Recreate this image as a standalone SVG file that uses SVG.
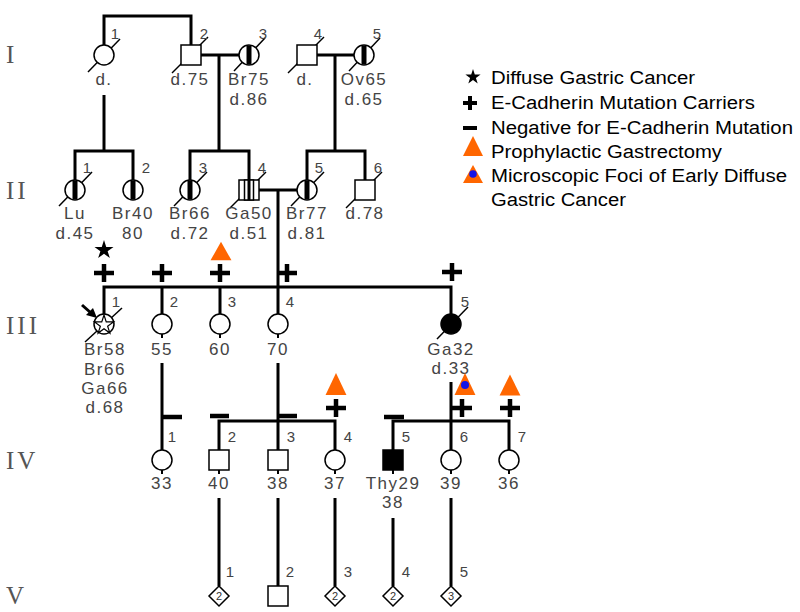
<svg xmlns="http://www.w3.org/2000/svg" xmlns:xlink="http://www.w3.org/1999/xlink" width="800" height="612" viewBox="0 0 800 612">
<style>
.ln{fill:none;stroke:#000;stroke-width:3}
.sym{fill:#fff;stroke:#000;stroke-width:1.5}
.aff{fill:#000;stroke:#000;stroke-width:1.5}
.sl{stroke:#000;stroke-width:1.5}
.stp{stroke:#000;stroke-width:5}
.stub{stroke:#000;stroke-width:2}
.t{font-family:"Liberation Sans",Arial,sans-serif;font-size:17px;letter-spacing:1.5px;fill:#444;text-anchor:middle}
.n{font-family:"Liberation Sans",Arial,sans-serif;font-size:15px;fill:#444;text-anchor:middle}
.g{font-family:"Liberation Serif","Times New Roman",serif;font-size:25px;letter-spacing:3px;fill:#555}
.lg{font-family:"Liberation Sans",Arial,sans-serif;font-size:18px;fill:#000}
.pl{stroke:#000;stroke-width:4.5;fill:none}
.tri{fill:#FF6600}
.in{font-family:"Liberation Sans",Arial,sans-serif;font-size:11px;fill:#333;text-anchor:middle}
</style>
<defs>
<path id="star" d="M0,-10 L2.245,-3.09 L9.511,-3.09 L3.633,1.18 L5.878,8.09 L0,3.82 L-5.878,8.09 L-3.633,1.18 L-9.511,-3.09 L-2.245,-3.09 Z"/>
<path id="plus" d="M-10,0 H10 M0,-9 V9"/>
<path id="tri" d="M0,-11 L11,11 L-11,11 Z"/>
</defs>

<!-- generation labels -->
<g id="generations">
<text class="g" x="6" y="63">I</text>
<text class="g" x="6" y="199">II</text>
<text class="g" x="6" y="334">III</text>
<text class="g" x="6" y="469">IV</text>
<text class="g" x="6" y="604">V</text>
</g>

<!-- connectors -->
<g id="connectors">
<path class="ln" d="M104,45 V16 H191 V45"/>
<path class="ln" d="M201,55 H239 M219,55 V151"/>
<path class="ln" d="M317,55 H354 M335,55 V151"/>
<path class="ln" d="M104,95 V151"/>
<path class="ln" d="M75,180 V151 H133 V180"/>
<path class="ln" d="M190,180 V151 H249 V180"/>
<path class="ln" d="M307,180 V151 H365 V180"/>
<path class="ln" d="M259,190 H297 M278,190 V314"/>
<path class="ln" d="M104,314 V287 H451 V314 M162,287 V314 M220,287 V314"/>
<path class="ln" d="M162,363 V450"/>
<path class="ln" d="M278,363 V450 M219,450 V421 H335 V450"/>
<path class="ln" d="M451,382 V450 M393,450 V421 H509 V450"/>
<path class="ln" d="M219,498 V586 M278,498 V586 M335,498 V586 M393,518 V586 M451,498 V586"/>
</g>

<!-- Generation I -->
<g id="I-1">
<line class="sl" x1="88" y1="72" x2="120" y2="39"/>
<circle class="sym" cx="104" cy="55" r="10"/>
<text class="n" x="115" y="39">1</text>
<text class="t" x="104" y="85">d.</text>
</g>
<g id="I-2">
<line class="sl" x1="172" y1="73" x2="208" y2="37"/>
<rect class="sym" x="181" y="45" width="20" height="20"/>
<text class="n" x="204" y="39">2</text>
<text class="t" x="190" y="85">d.75</text>
</g>
<g id="I-3">
<line class="sl" x1="234" y1="71" x2="265" y2="38"/>
<circle class="sym" cx="249" cy="55" r="10"/>
<line class="stp" x1="249" y1="45.5" x2="249" y2="64.5"/>
<text class="n" x="263" y="39">3</text>
<text class="t" x="249" y="85">Br75</text>
<text class="t" x="249" y="105">d.86</text>
</g>
<g id="I-4">
<line class="sl" x1="288" y1="73" x2="324" y2="37"/>
<rect class="sym" x="297" y="45" width="20" height="20"/>
<text class="n" x="318" y="39">4</text>
<text class="t" x="305" y="85">d.</text>
</g>
<g id="I-5">
<line class="sl" x1="349" y1="71" x2="380" y2="38"/>
<circle class="sym" cx="364" cy="55" r="10"/>
<line class="stp" x1="364" y1="45.5" x2="364" y2="64.5"/>
<text class="n" x="377" y="39">5</text>
<text class="t" x="364" y="85">Ov65</text>
<text class="t" x="364" y="105">d.65</text>
</g>

<!-- Generation II -->
<g id="II-1">
<line class="sl" x1="59" y1="206" x2="92" y2="172"/>
<circle class="sym" cx="75" cy="190" r="10"/>
<line class="stp" x1="75" y1="180.5" x2="75" y2="199.5"/>
<text class="n" x="87" y="173">1</text>
<text class="t" x="75" y="219">Lu</text>
<text class="t" x="75" y="239">d.45</text>
</g>
<g id="II-2">
<circle class="sym" cx="133" cy="190" r="10"/>
<line class="stp" x1="133" y1="180.5" x2="133" y2="199.5"/>
<text class="n" x="146" y="173">2</text>
<text class="t" x="133" y="219">Br40</text>
<text class="t" x="133" y="239">80</text>
</g>
<g id="II-3">
<line class="sl" x1="174" y1="206" x2="207" y2="172"/>
<circle class="sym" cx="190" cy="190" r="10"/>
<line class="stp" x1="190" y1="180.5" x2="190" y2="199.5"/>
<text class="n" x="203" y="173">3</text>
<text class="t" x="190" y="219">Br66</text>
<text class="t" x="190" y="239">d.72</text>
</g>
<g id="II-4">
<line class="sl" x1="230" y1="208" x2="266" y2="172"/>
<rect class="sym" x="239" y="180" width="20" height="20"/>
<rect class="sym" x="244.5" y="180" width="9" height="20"/>
<line class="stp" x1="249" y1="180" x2="249" y2="200" style="stroke-width:3"/>
<text class="n" x="262" y="173">4</text>
<text class="t" x="249" y="219">Ga50</text>
<text class="t" x="249" y="239">d.51</text>
</g>
<g id="II-5">
<line class="sl" x1="291" y1="206" x2="324" y2="172"/>
<circle class="sym" cx="307" cy="190" r="10"/>
<line class="stp" x1="307" y1="180.5" x2="307" y2="199.5"/>
<text class="n" x="319" y="173">5</text>
<text class="t" x="307" y="219">Br77</text>
<text class="t" x="307" y="239">d.81</text>
</g>
<g id="II-6">
<line class="sl" x1="346" y1="208" x2="382" y2="172"/>
<rect class="sym" x="355" y="180" width="20" height="20"/>
<text class="n" x="378" y="173">6</text>
<text class="t" x="365" y="219">d.78</text>
</g>

<!-- markers Gen III -->
<g id="markers-III">
<use href="#star" xlink:href="#star" transform="translate(104,250)"/>
<use class="tri" href="#tri" xlink:href="#tri" transform="translate(221,251) scale(0.95,0.85)"/>
<use class="pl" href="#plus" xlink:href="#plus" transform="translate(104,273)"/>
<use class="pl" href="#plus" xlink:href="#plus" transform="translate(162,273)"/>
<use class="pl" href="#plus" xlink:href="#plus" transform="translate(220,273)"/>
<use class="pl" href="#plus" xlink:href="#plus" transform="translate(287,273)"/>
<use class="pl" href="#plus" xlink:href="#plus" transform="translate(452,272)"/>
</g>

<!-- Generation III -->
<g id="III-1">
<line class="sl" x1="85" y1="342" x2="122" y2="308"/>
<circle class="sym" cx="104" cy="324" r="10"/>
<use href="#star" xlink:href="#star" transform="translate(104,325)" style="fill:#fff;stroke:#000;stroke-width:1.2"/>
<line x1="82" y1="305" x2="91" y2="313" style="stroke:#000;stroke-width:3"/>
<path d="M97,318 L86,315 L93,308 Z" fill="#000"/>
<text class="n" x="116" y="307">1</text>
<text class="t" x="105" y="355">Br58</text>
<text class="t" x="105" y="375">Br66</text>
<text class="t" x="105" y="394">Ga66</text>
<text class="t" x="105" y="413">d.68</text>
</g>
<g id="III-2">
<circle class="sym" cx="162" cy="324" r="10"/>
<line class="stub" x1="162" y1="334" x2="162" y2="338"/>
<text class="n" x="174" y="307">2</text>
<text class="t" x="162" y="355">55</text>
</g>
<g id="III-3">
<circle class="sym" cx="220" cy="324" r="10"/>
<line class="stub" x1="220" y1="334" x2="220" y2="338"/>
<text class="n" x="232" y="307">3</text>
<text class="t" x="220" y="355">60</text>
</g>
<g id="III-4">
<circle class="sym" cx="278" cy="324" r="10"/>
<line class="stub" x1="278" y1="334" x2="278" y2="338"/>
<text class="n" x="290" y="307">4</text>
<text class="t" x="278" y="355">70</text>
</g>
<g id="III-5">
<line class="sl" x1="437" y1="339" x2="468" y2="307"/>
<circle class="aff" cx="451" cy="324" r="10"/>
<text class="n" x="465" y="307">5</text>
<text class="t" x="451" y="355">Ga32</text>
<text class="t" x="451" y="374">d.33</text>
</g>

<!-- markers Gen IV -->
<g id="markers-IV">
<line class="pl" x1="162" y1="417" x2="182" y2="417"/>
<line class="pl" x1="210" y1="416" x2="229" y2="416"/>
<line class="pl" x1="278" y1="416" x2="297" y2="416"/>
<line class="pl" x1="384" y1="417" x2="404" y2="417"/>
<use class="pl" href="#plus" xlink:href="#plus" transform="translate(336,408)"/>
<use class="pl" href="#plus" xlink:href="#plus" transform="translate(462,408)"/>
<use class="pl" href="#plus" xlink:href="#plus" transform="translate(510,408)"/>
<use class="tri" href="#tri" xlink:href="#tri" transform="translate(336,384) scale(0.95,1)"/>
<use class="tri" href="#tri" xlink:href="#tri" transform="translate(465,384) scale(0.95,1)"/>
<circle cx="465" cy="385" r="4" fill="#1414E6"/>
<use class="tri" href="#tri" xlink:href="#tri" transform="translate(510,385) scale(0.95,0.95)"/>
</g>

<!-- Generation IV -->
<g id="IV-1">
<circle class="sym" cx="162" cy="460" r="10"/>
<line class="stub" x1="162" y1="470" x2="162" y2="474"/>
<text class="n" x="172" y="442">1</text>
<text class="t" x="162" y="489">33</text>
</g>
<g id="IV-2">
<rect class="sym" x="209" y="450" width="20" height="20"/>
<line class="stub" x1="219" y1="470" x2="219" y2="474"/>
<text class="n" x="232" y="442">2</text>
<text class="t" x="219" y="489">40</text>
</g>
<g id="IV-3">
<rect class="sym" x="268" y="450" width="20" height="20"/>
<line class="stub" x1="278" y1="470" x2="278" y2="474"/>
<text class="n" x="291" y="442">3</text>
<text class="t" x="278" y="489">38</text>
</g>
<g id="IV-4">
<circle class="sym" cx="335" cy="460" r="10"/>
<line class="stub" x1="335" y1="470" x2="335" y2="474"/>
<text class="n" x="348" y="442">4</text>
<text class="t" x="335" y="489">37</text>
</g>
<g id="IV-5">
<rect class="aff" x="383" y="450" width="20" height="20"/>
<line class="stub" x1="393" y1="470" x2="393" y2="474"/>
<text class="n" x="406" y="442">5</text>
<text class="t" x="393" y="489">Thy29</text>
<text class="t" x="393" y="508">38</text>
</g>
<g id="IV-6">
<circle class="sym" cx="451" cy="460" r="10"/>
<line class="stub" x1="451" y1="470" x2="451" y2="474"/>
<text class="n" x="464" y="442">6</text>
<text class="t" x="451" y="489">39</text>
</g>
<g id="IV-7">
<circle class="sym" cx="509" cy="460" r="10"/>
<line class="stub" x1="509" y1="470" x2="509" y2="474"/>
<text class="n" x="522" y="442">7</text>
<text class="t" x="509" y="489">36</text>
</g>

<!-- Generation V -->
<g id="V-1">
<path class="sym" d="M219,586 L229,596 L219,606 L209,596 Z"/>
<text class="in" x="219" y="600">2</text>
<text class="n" x="230" y="577">1</text>
</g>
<g id="V-2">
<rect class="sym" x="268" y="586" width="20" height="20"/>
<text class="n" x="290" y="577">2</text>
</g>
<g id="V-3">
<path class="sym" d="M335,586 L345,596 L335,606 L325,596 Z"/>
<text class="in" x="335" y="600">2</text>
<text class="n" x="348" y="577">3</text>
</g>
<g id="V-4">
<path class="sym" d="M393,586 L403,596 L393,606 L383,596 Z"/>
<text class="in" x="393" y="600">2</text>
<text class="n" x="406" y="577">4</text>
</g>
<g id="V-5">
<path class="sym" d="M451,586 L461,596 L451,606 L441,596 Z"/>
<text class="in" x="451" y="600">3</text>
<text class="n" x="464" y="577">5</text>
</g>

<!-- Legend -->
<g id="legend">
<use href="#star" xlink:href="#star" transform="translate(473,77) scale(0.8)"/>
<text class="lg" x="491" y="84" textLength="204" lengthAdjust="spacingAndGlyphs">Diffuse Gastric Cancer</text>
<path d="M463,103 H477 M470,96 V110" class="pl" style="stroke-width:4"/>
<text class="lg" x="491" y="109" textLength="264" lengthAdjust="spacingAndGlyphs">E-Cadherin Mutation Carriers</text>
<line x1="463" y1="128" x2="477" y2="128" class="pl" style="stroke-width:4"/>
<text class="lg" x="491" y="134" textLength="302" lengthAdjust="spacingAndGlyphs">Negative for E-Cadherin Mutation</text>
<path class="tri" d="M473,136 L483,156 L463,156 Z"/>
<text class="lg" x="491" y="158" textLength="231" lengthAdjust="spacingAndGlyphs">Prophylactic Gastrectomy</text>
<path class="tri" d="M473,165 L483,183 L463,183 Z"/>
<circle cx="473" cy="174" r="3.8" fill="#1414E6"/>
<text class="lg" x="491" y="182" textLength="296" lengthAdjust="spacingAndGlyphs">Microscopic Foci of Early Diffuse</text>
<text class="lg" x="491" y="206" textLength="135" lengthAdjust="spacingAndGlyphs">Gastric Cancer</text>
</g>
</svg>
